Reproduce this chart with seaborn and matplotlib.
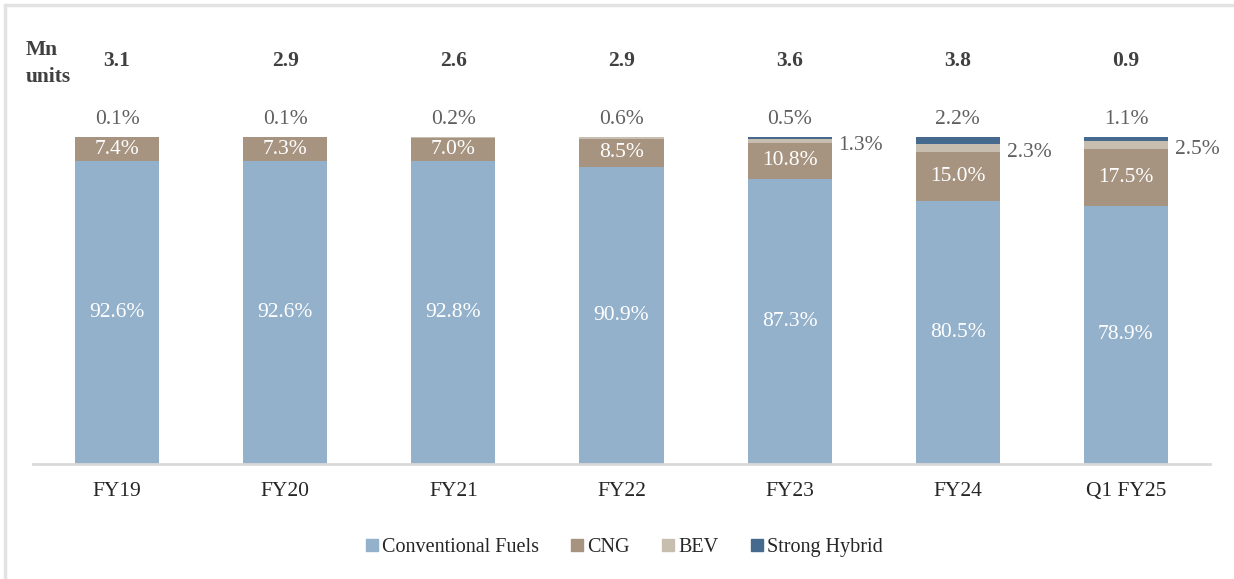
import matplotlib
matplotlib.use("Agg")
import matplotlib.pyplot as plt
from matplotlib.lines import Line2D
from matplotlib.patches import Rectangle
import pandas as pd
import seaborn as sns

# data
years = ["FY19", "FY20", "FY21", "FY22", "FY23", "FY24", "Q1 FY25"]
totals = ["3.1", "2.9", "2.6", "2.9", "3.6", "3.8", "0.9"]
conventional = [92.6, 92.6, 92.8, 90.9, 87.3, 80.5, 78.9]
cng = [7.4, 7.3, 7.0, 8.5, 10.8, 15.0, 17.5]
bev = [0.1, 0.1, 0.2, 0.6, 1.3, 2.3, 2.5]
hybrid = [0.0, 0.0, 0.0, 0.0, 0.5, 2.2, 1.1]

colors = {"Conventional Fuels": "#93B1CB", "CNG": "#A69480",
          "BEV": "#C8BEB0", "Strong Hybrid": "#456A8D"}

df = pd.DataFrame({"year": years, "Conventional Fuels": conventional,
                   "CNG": cng, "BEV": bev, "Strong Hybrid": hybrid})
# cumulative heights, drawn tallest first so each layer covers the one above
df["c1"] = df["Conventional Fuels"]
df["c2"] = df["c1"] + df["CNG"]
df["c3"] = df["c2"] + df["BEV"]
df["c4"] = df["c3"] + df["Strong Hybrid"]

sns.set_theme(style="white")
plt.rcParams["font.family"] = ["Liberation Serif", "DejaVu Serif"]

fs = 15.5
fig = plt.figure(figsize=(12.34, 5.79), dpi=100)
ax = fig.add_axes([33 / 1234, 1 - 464 / 579, (1210 - 33) / 1234, (464 - 137) / 579])

for col, name in [("c4", "Strong Hybrid"), ("c3", "BEV"), ("c2", "CNG"), ("c1", "Conventional Fuels")]:
    sns.barplot(data=df, x="year", y=col, color=colors[name], width=0.5,
                saturation=1, linewidth=0, ax=ax)

ax.set_xlim(-0.5, 6.5)
ax.set_ylim(0, 100)
ax.set_xlabel("")
ax.set_ylabel("")
ax.set_yticks([])
for s in ["top", "right", "left"]:
    ax.spines[s].set_visible(False)
ax.spines["bottom"].set_color("#D9D9D9")
ax.spines["bottom"].set_linewidth(2)
ax.tick_params(axis="x", length=0, pad=13, labelsize=fs, labelcolor="#262626")

grey = "#606060"
for i, row in df.iterrows():
    ax.text(i, 123.3, totals[i], ha="center", va="center", fontsize=fs,
            fontweight="bold", color="#404040", clip_on=False)
    ax.text(i, row["c1"] / 2, f"{row['Conventional Fuels']:.1f}%", ha="center",
            va="center", fontsize=fs, color="white")
    ax.text(i, row["c1"] + row["CNG"] / 2, f"{row['CNG']:.1f}%", ha="center",
            va="center", fontsize=fs, color="white")
    if row["Strong Hybrid"] > 0:
        ax.text(i, 105.2, f"{row['Strong Hybrid']:.1f}%", ha="center", va="center",
                fontsize=fs, color=grey, clip_on=False)
        ax.text(i + 0.29, row["c2"] + row["BEV"] / 2 - 1.5, f"{row['BEV']:.1f}%",
                ha="left", va="center", fontsize=fs, color=grey, clip_on=False)
    else:
        ax.text(i, 105.2, f"{row['BEV']:.1f}%", ha="center", va="center",
                fontsize=fs, color=grey, clip_on=False)

fig.text(26 / 1234, 1 - 50 / 579, "Mn", fontsize=fs, fontweight="bold",
         color="#404040", va="center", ha="left")
fig.text(26 / 1234, 1 - 77 / 579, "units", fontsize=fs, fontweight="bold",
         color="#404040", va="center", ha="left")

handles = [Line2D([], [], marker="s", linestyle="", markersize=8,
                  color=colors[n]) for n in colors]
fig.legend(handles, list(colors), loc="center", bbox_to_anchor=(0.505, 1 - 547 / 579),
           ncol=4, frameon=False, fontsize=14.5, handletextpad=0.1,
           columnspacing=1.5, handlelength=0.8)

# light frame on the left and top edges
fig.patches.append(Rectangle((5 / 1234, -0.1), 1.2, 1 - 5 / 579 + 0.1,
                             transform=fig.transFigure, fill=False,
                             edgecolor="#E3E3E3", linewidth=2.5))

fig.savefig("out.png", dpi=100)
